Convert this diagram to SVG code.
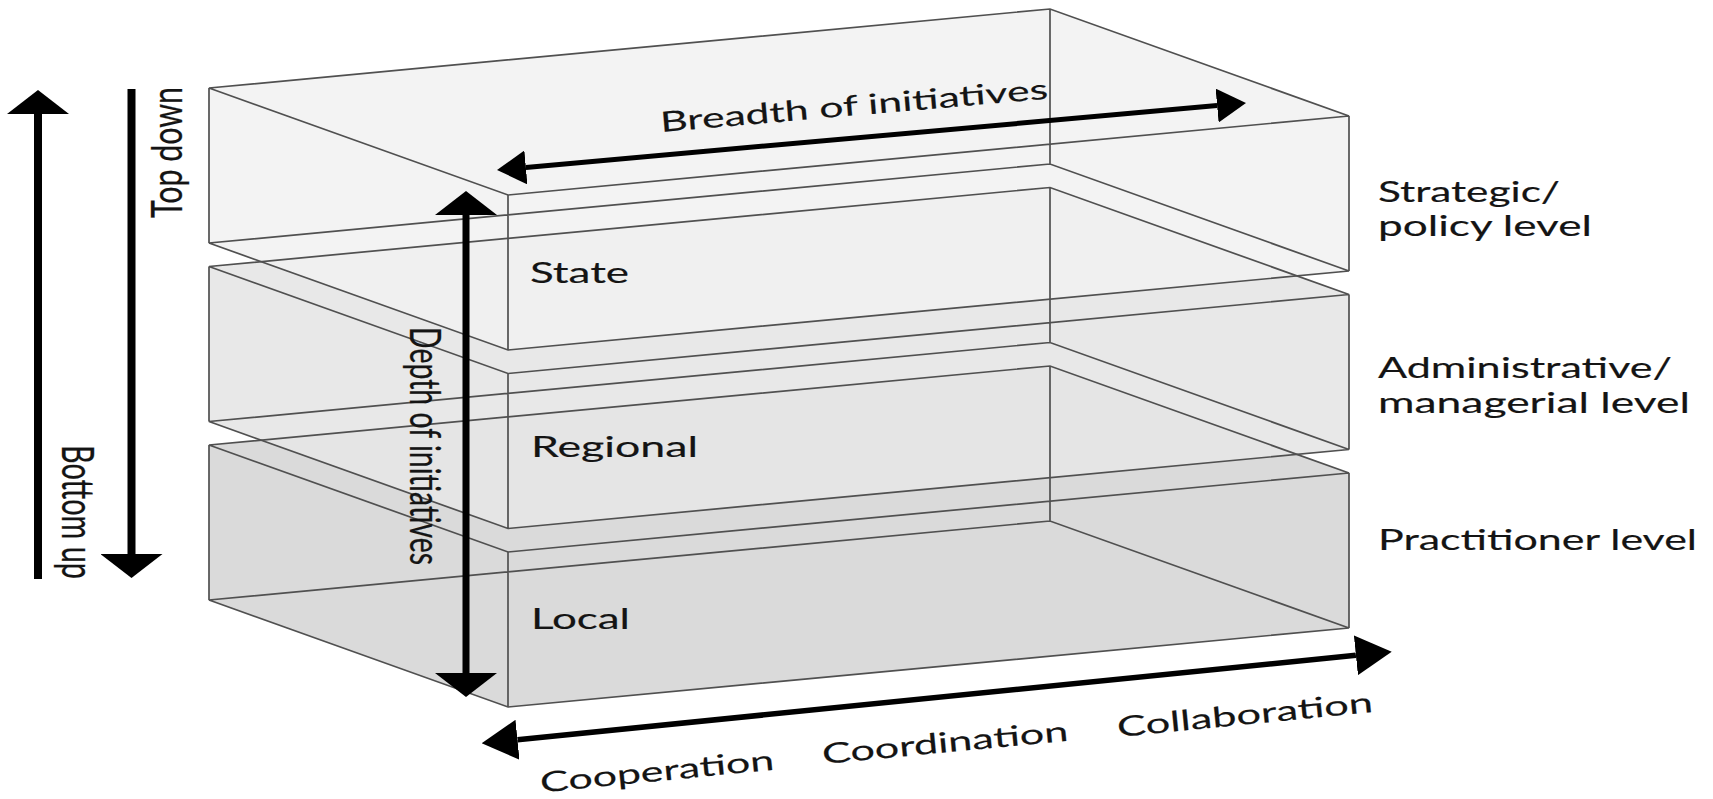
<svg xmlns="http://www.w3.org/2000/svg" width="1713" height="799" viewBox="0 0 1713 799">
  <style>
    .edge { fill: none; stroke: #505050; stroke-width: 1.7; stroke-linejoin: miter; }
    .lbl { font-family: Lato, "Open Sans", "Liberation Sans", sans-serif; font-size: 28px; fill: #141414; stroke: #141414; stroke-width: 0.15; }
    .vlbl { font-size: 42px; stroke-width: 0.25; }
    .shaft { fill: none; stroke: #000; stroke-linecap: butt; }
    .head { fill: #000; stroke: none; }
  </style>
  <defs>
    <!-- silhouette and wireframe of one level box (oblique view) -->
    <polygon id="box-shape" points="209,88 1050,9 1349,116 1349,271 508,350 209,243"/>
    <path id="box-edges" d="M209,88 L508,195 L1349,116 L1050,9 Z M209,243 L508,350 L1349,271 L1050,164 Z M209,88 V243 M508,195 V350 M1349,116 V271 M1050,9 V164"/>
    <marker id="head-wide" viewBox="0 0 24 62" markerWidth="24" markerHeight="62" refX="0" refY="31" orient="auto-start-reverse" markerUnits="userSpaceOnUse">
      <path class="head" d="M0,0 L24,31 L0,62 Z"/>
    </marker>
    <marker id="head-mid" viewBox="0 0 29 34" markerWidth="29" markerHeight="34" refX="0" refY="17" orient="auto-start-reverse" markerUnits="userSpaceOnUse">
      <path class="head" d="M0,0 L29,17 L0,34 Z"/>
    </marker>
    <marker id="head-big" viewBox="0 0 36 40" markerWidth="36" markerHeight="40" refX="0" refY="20" orient="auto-start-reverse" markerUnits="userSpaceOnUse">
      <path class="head" d="M0,0 L36,20 L0,40 Z"/>
    </marker>
  </defs>

  <!-- level boxes, lowest first so the upper boxes sit over them -->
  <g id="local-level">
    <use href="#box-shape" transform="translate(0,357)" fill="#dadada"/>
    <text class="lbl" x="531" y="629" textLength="99" lengthAdjust="spacingAndGlyphs">Local</text>
    <text class="lbl" x="1378" y="550" textLength="319" lengthAdjust="spacingAndGlyphs">Practitioner level</text>
  </g>
  <g id="regional-level">
    <use href="#box-shape" transform="translate(0,178.5)" fill="#e6e6e6" fill-opacity="0.9"/>
    <text class="lbl" x="531" y="457" textLength="167" lengthAdjust="spacingAndGlyphs">Regional</text>
    <text class="lbl" x="1378" y="378" textLength="294" lengthAdjust="spacingAndGlyphs">Administrative/</text>
    <text class="lbl" x="1378" y="413" textLength="312" lengthAdjust="spacingAndGlyphs">managerial level</text>
  </g>
  <g id="state-level">
    <use href="#box-shape" fill="#f1f1f1" fill-opacity="0.85"/>
    <text class="lbl" x="530" y="283" textLength="99" lengthAdjust="spacingAndGlyphs">State</text>
    <text class="lbl" x="1378" y="202" textLength="182" lengthAdjust="spacingAndGlyphs">Strategic/</text>
    <text class="lbl" x="1378" y="236" textLength="214" lengthAdjust="spacingAndGlyphs">policy level</text>
  </g>

  <!-- wireframe edges stay visible through every box -->
  <g id="box-outlines">
    <use href="#box-edges" class="edge"/>
    <use href="#box-edges" class="edge" transform="translate(0,178.5)"/>
    <use href="#box-edges" class="edge" transform="translate(0,357)"/>
  </g>

  <!-- arrows -->
  <g id="connectors">
    <path id="bottom-up-arrow" class="shaft" stroke-width="8" d="M38,579 V114" marker-end="url(#head-wide)"/>
    <path id="top-down-arrow" class="shaft" stroke-width="8" d="M131.5,89 V554" marker-end="url(#head-wide)"/>
    <path id="depth-arrow" class="shaft" stroke-width="7" d="M466,215 V673" marker-start="url(#head-wide)" marker-end="url(#head-wide)"/>
    <path id="breadth-arrow" class="shaft" stroke-width="5" d="M525.9,167.4 L1217.1,105.6" marker-start="url(#head-mid)" marker-end="url(#head-mid)"/>
    <path id="partnership-arrow" class="shaft" stroke-width="5.5" d="M517.5,739.7 L1355.9,655.3" marker-start="url(#head-big)" marker-end="url(#head-big)"/>
  </g>

  <!-- arrow labels -->
  <g id="arrow-labels">
    <text class="lbl vlbl" transform="translate(181.7,218) rotate(-90)" textLength="131" lengthAdjust="spacingAndGlyphs">Top down</text>
    <text class="lbl vlbl" style="font-size:44px" transform="translate(62,445) rotate(90)" textLength="134" lengthAdjust="spacingAndGlyphs">Bottom up</text>
    <text class="lbl vlbl" transform="translate(410,327) rotate(90)" textLength="238" lengthAdjust="spacingAndGlyphs">Depth of initiatives</text>
    <text class="lbl" transform="translate(661,132) rotate(-4.9)" textLength="389" lengthAdjust="spacingAndGlyphs">Breadth of initiatives</text>
    <text class="lbl" transform="translate(541,792.5) rotate(-5.6)" textLength="235" lengthAdjust="spacingAndGlyphs">Cooperation</text>
    <text class="lbl" transform="translate(823,764) rotate(-5.4)" textLength="247" lengthAdjust="spacingAndGlyphs">Coordination</text>
    <text class="lbl" transform="translate(1118,737) rotate(-5.6)" textLength="257" lengthAdjust="spacingAndGlyphs">Collaboration</text>
  </g>
</svg>
